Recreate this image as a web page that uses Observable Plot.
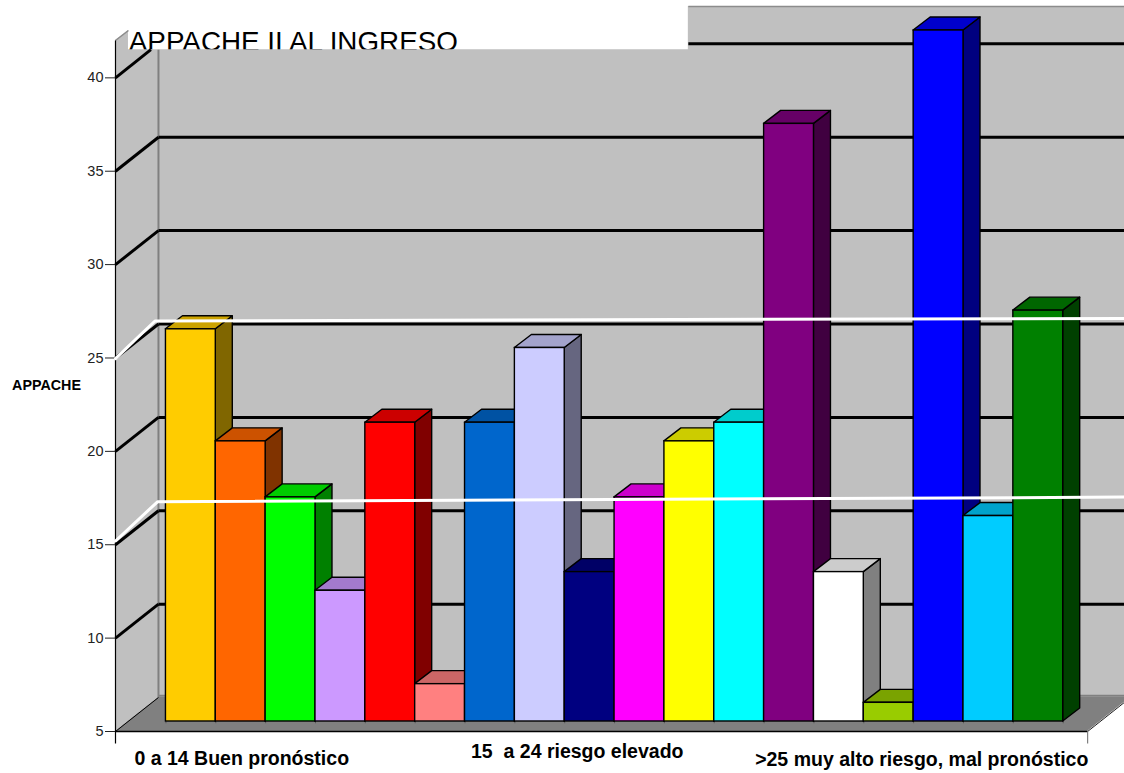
<!DOCTYPE html>
<html>
<head>
<meta charset="utf-8">
<script src="https://cdn.jsdelivr.net/npm/d3@7"></script>
<script src="https://cdn.jsdelivr.net/npm/@observablehq/plot@0.6"></script>
<style>
  html, body { margin: 0; padding: 0; background: #fff; overflow: hidden; }
  svg { display: block; }
</style>
</head>
<body>
<div id="chart"></div>
<script>
// APACHE II score of each patient at admission
const scores = [26, 20, 17, 12, 21, 7, 21, 25, 13, 17, 20, 21, 37, 13, 6, 42, 16, 27];
const barColors = [
  "#ffcc00", "#ff6600", "#00ff00", "#cc99ff", "#ff0000", "#ff8080",
  "#0066cc", "#ccccff", "#000080", "#ff00ff", "#ffff00", "#00ffff",
  "#800080", "#ffffff", "#99cc00", "#0000ff", "#00ccff", "#008000"
];
const yTicks = [5, 10, 15, 20, 25, 30, 35, 40];
const gridValues = [10, 15, 20, 25, 30, 35, 40];
const groupLabels = [
  {text: "0 a 14 Buen pronóstico", x: -0.631, y: 3.55},
  {text: "15  a 24 riesgo elevado", x: 6.12, y: 3.93},
  {text: ">25 muy alto riesgo, mal pronóstico", x: 11.82, y: 3.5}
];
// Hand-drawn white separators between the risk bands (x in bar units, y on the front scale)
const separators = [
  [{x: -1.012, y: 24.97}, {x: -0.22, y: 26.98}, {x: 19.23, y: 27.12}],
  [{x: -1.012, y: 15.2}, {x: -0.17, y: 17.3}, {x: 19.23, y: 17.55}]
];

// Box geometry in scale units
const xFront = -1.012, xFrontEnd = 18.49, xEdge = 19.23;
const wallDx = 0.862, wallDy = 1.82;
const barDx = 0.341, barDy = 0.696;
const yMin = 5, yMax = 42;
const xBack = xFront + wallDx;
const titleLeft = -0.752, titleRight = 10.48, titleBottom = 41.51;
const wallGrey = "#c0c0c0", floorGrey = "#808080";

const shade = (color, k) => {
  const c = d3.rgb(color);
  return d3.rgb(c.r * k, c.g * k, c.b * k).formatHex();
};

// Left wall and back wall leave a notch for the title box
const leftWall = [
  {x1: xFront, y1: yMin, x2: xFront, y2: yMax},
  {x1: titleLeft, y1: yMin + 0.535, x2: titleLeft, y2: yMax + 0.535},
  {x1: titleLeft, y1: yMin + 0.535, x2: titleLeft, y2: titleBottom},
  {x1: xBack, y1: yMin + wallDy, x2: xBack, y2: titleBottom}
];
const backWall = [
  {x1: xBack, y1: yMin + wallDy, x2: xBack, y2: titleBottom},
  {x1: titleRight, y1: yMin + wallDy, x2: titleRight, y2: titleBottom},
  {x1: titleRight, y1: yMin + wallDy, x2: titleRight, y2: yMax + wallDy},
  {x1: xEdge, y1: yMin + wallDy, x2: xEdge, y2: yMax + wallDy}
];
const floor = [
  {x1: xFront, y1: yMin, x2: xFrontEnd, y2: yMin},
  {x1: xBack, y1: yMin + wallDy, x2: xFrontEnd + wallDx, y2: yMin + wallDy}
];

const polygon = (rows, options) => Plot.area(rows, {x1: "x1", y1: "y1", x2: "x2", y2: "y2", ...options});

// One bar: side, top and front, painted so that the next bar overlaps it
const barMarks = scores.flatMap((v, i) => {
  const color = barColors[i];
  const common = {stroke: "#000", strokeWidth: 1.4, dy: -10};
  return [
    polygon([
      {x1: i + 1, y1: yMin, x2: i + 1, y2: v},
      {x1: i + 1 + barDx, y1: yMin + barDy, x2: i + 1 + barDx, y2: v + barDy}
    ], {fill: shade(color, 0.5), ...common}),
    polygon([
      {x1: i, y1: v, x2: i + 1, y2: v},
      {x1: i + barDx, y1: v + barDy, x2: i + 1 + barDx, y2: v + barDy}
    ], {fill: shade(color, 0.8), ...common}),
    Plot.rect([v], {x1: i, x2: i + 1, y1: yMin, y2: d => d, fill: color, ...common})
  ];
});

const chart = Plot.plot({
  width: 1124,
  height: 773,
  marginLeft: 115,
  marginRight: 0,
  marginTop: 40,
  marginBottom: 42,
  style: {fontFamily: "'Liberation Sans', Arial, sans-serif", background: "#fff", overflow: "hidden"},
  x: {domain: [xFront, xEdge], axis: null},
  y: {domain: [yMin, yMax], axis: null},
  marks: [
    // Title sits under the walls so its lower edge is cut off by them
    Plot.text(["APPACHE II AL INGRESO"], {
      x: -0.745, y: 41.42, text: d => d, textAnchor: "start", lineAnchor: "bottom",
      fontSize: 27.8, fill: "#000"
    }),
    polygon(leftWall, {fill: wallGrey}),
    polygon(backWall, {fill: wallGrey}),
    polygon(floor, {fill: floorGrey}),

    // Wall edges
    Plot.link([0], {x1: xBack, x2: xBack, y1: yMin + wallDy, y2: titleBottom, stroke: floorGrey, strokeWidth: 2}),
    Plot.link([0], {x1: titleRight, x2: xEdge, y1: yMax + wallDy, y2: yMax + wallDy, stroke: "#8c8c8c", strokeWidth: 1.5}),
    Plot.link([0], {x1: xFront, x2: titleLeft, y1: yMax, y2: yMax + 0.535, stroke: "#8c8c8c", strokeWidth: 1.5}),
    Plot.link([0], {x1: xBack, x2: xEdge, y1: yMin + wallDy + 0.09, y2: yMin + wallDy + 0.09, stroke: "#808080", strokeWidth: 2}),

    // Gridlines across the back wall and down the left wall
    Plot.link(gridValues, {
      x1: v => (v === 40 ? titleRight : xBack), x2: xEdge,
      y1: v => v + wallDy, y2: v => v + wallDy,
      stroke: "#000", strokeWidth: 3
    }),
    Plot.link(gridValues, {
      x1: xFront,
      y1: v => v,
      x2: v => (v === 40 ? -0.302 : xBack),
      y2: v => (v === 40 ? titleBottom : v + wallDy),
      stroke: "#000", strokeWidth: 3
    }),

    // Floor outline
    Plot.link([0], {x1: xFront, x2: xFrontEnd, y1: yMin, y2: yMin, stroke: "#000", strokeWidth: 1.4}),
    Plot.link([0], {x1: xFront, x2: xBack, y1: yMin, y2: yMin + wallDy, stroke: "#000", strokeWidth: 1}),
    Plot.link([0], {x1: xFrontEnd, x2: xFrontEnd + wallDx, y1: yMin, y2: yMin + wallDy, stroke: "#222", strokeWidth: 1}),

    // Axis lines reaching below the floor
    Plot.link([0], {x1: xFront, x2: xFront, y1: 4.36, y2: yMax, stroke: "#000", strokeWidth: 1.2}),
    Plot.link([0], {x1: xFrontEnd, x2: xFrontEnd, y1: 4.36, y2: yMin, stroke: "#808080", strokeWidth: 1.2}),

    Plot.axisY(yTicks, {
      anchor: "left", tickSize: 10, tickPadding: 2, fontSize: 14.5, label: null,
      stroke: "#222", fill: "#222"
    }),

    // Short marks under the bar boundaries
    Plot.ruleX(d3.range(scores.length + 1), {y1: 4.88, y2: yMin, dy: -10, stroke: "#555"}),

    ...barMarks,

    ...separators.map(points => Plot.line(points, {x: "x", y: "y", stroke: "#fff", strokeWidth: 3})),

    Plot.text(["APPACHE"], {
      x: -3.086, y: 23.52, text: d => d, textAnchor: "start",
      fontSize: 14.3, fontWeight: "bold", fill: "#000"
    }),
    Plot.text(groupLabels, {
      x: "x", y: "y", text: "text", textAnchor: "start",
      fontSize: 19.5, fontWeight: "bold", fill: "#000"
    })
  ]
});
document.getElementById("chart").append(chart);
</script>
</body>
</html>
